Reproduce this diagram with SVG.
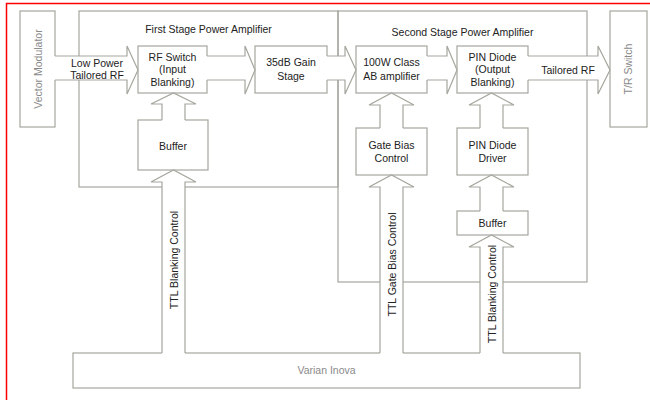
<svg xmlns="http://www.w3.org/2000/svg" width="650" height="400" viewBox="0 0 650 400">
<style>
.box{fill:#fff;stroke:#a6a69e;stroke-width:1.2}
.frame{fill:none;stroke:#a6a69e;stroke-width:1.2}
.af{fill:#fff;stroke:none}
.as{fill:none;stroke:#a6a69e;stroke-width:1.2;stroke-linejoin:miter}
text{font-family:"Liberation Sans",Arial,sans-serif;font-size:10.5px;fill:#222;text-anchor:middle}
.g{fill:#8a8a8a}
</style>
<rect width="650" height="400" fill="#fff"/>
<path d="M6.5,400 V3.5 H650" fill="none" stroke="#f00" stroke-width="1.5"/>

<g id="first-stage">
<rect class="frame" x="79" y="11" width="259" height="176"/>
<text x="208.5" y="32.5">First Stage Power Amplifier</text>
</g>
<g id="second-stage">
<rect class="frame" x="338" y="11" width="249" height="271"/>
<text x="462.5" y="36">Second Stage Power Amplifier</text>
</g>

<g id="vector-modulator">
<rect class="box" x="20" y="11" width="35" height="116"/>
<text class="g" transform="translate(41.5,69) rotate(-90)">Vector Modulator</text>
</g>
<g id="tr-switch">
<rect class="box" x="610" y="11" width="37" height="116"/>
<text class="g" transform="translate(632,69) rotate(-90)">T/R Switch</text>
</g>
<g id="rf-switch">
<rect class="box" x="138" y="46" width="69" height="47"/>
<text x="172.5" y="60.5">RF Switch</text>
<text x="172.5" y="73">(Input</text>
<text x="172.5" y="85.5">Blanking)</text>
</g>
<g id="gain-stage">
<rect class="box" x="255" y="46" width="72" height="47"/>
<text x="291" y="66">35dB Gain</text>
<text x="291" y="79.5">Stage</text>
</g>
<g id="amp-100w">
<rect class="box" x="356" y="46" width="71" height="47"/>
<text x="391.5" y="66">100W Class</text>
<text x="391.5" y="79.5">AB amplifier</text>
</g>
<g id="pin-diode">
<rect class="box" x="457" y="46" width="71" height="47"/>
<text x="492.5" y="60.5">PIN Diode</text>
<text x="492.5" y="73">(Output</text>
<text x="492.5" y="85.5">Blanking)</text>
</g>
<g id="buffer-1">
<rect class="box" x="138" y="120" width="70" height="50"/>
<text x="173" y="149.5">Buffer</text>
</g>
<g id="gate-bias">
<rect class="box" x="356" y="128" width="71" height="47"/>
<text x="391.5" y="149">Gate Bias</text>
<text x="391.5" y="161.5">Control</text>
</g>
<g id="pin-driver">
<rect class="box" x="457" y="128" width="71" height="47"/>
<text x="492.5" y="149">PIN Diode</text>
<text x="492.5" y="161.5">Driver</text>
</g>
<g id="buffer-2">
<rect class="box" x="457" y="211" width="71" height="24"/>
<text x="492.5" y="226.5">Buffer</text>
</g>
<g id="varian-inova">
<rect class="box" x="73" y="353" width="507" height="35"/>
<text class="g" x="326.5" y="374">Varian Inova</text>
</g>

<g id="connectors">
<!-- Low Power Tailored RF -->
<path class="af" d="M54,56 H127 V46 L138,70 L127,94 V80 H54 Z"/>
<path class="as" d="M55,56 H127 V46 L138,70 L127,94 V80 H55"/>
<text x="97" y="66.5">Low Power</text>
<text x="97" y="79">Tailored RF</text>
<!-- RF switch to gain -->
<path class="af" d="M206,56 H245 V46 L255,70 L245,94 V80 H206 Z"/>
<path class="as" d="M207,56 H245 V46 L255,70 L245,94 V80 H207"/>
<!-- gain to 100W -->
<path class="af" d="M326,56 H345 V46 L356,70 L345,94 V80 H326 Z"/>
<path class="as" d="M327,56 H345 V46 L356,70 L345,94 V80 H327"/>
<!-- 100W to PIN -->
<path class="af" d="M426,56 H447 V46 L457,70 L447,94 V80 H426 Z"/>
<path class="as" d="M427,56 H447 V46 L457,70 L447,94 V80 H427"/>
<!-- PIN to T/R -->
<path class="af" d="M527,56 H598 V46 L610,70 L598,94 V80 H527 Z"/>
<path class="as" d="M528,56 H598 V46 L610,70 L598,94 V80 H528"/>
<text x="568" y="74">Tailored RF</text>

<!-- Buffer1 to RF switch -->
<path class="af" d="M162,121 V104 H151 L173.5,93 L196,104 H185 V121 Z"/>
<path class="as" d="M162,120 V104 H151 L173.5,93 L196,104 H185 V120"/>
<!-- Varian to Buffer1 -->
<path class="af" d="M162,354 V182 H151 L173.5,170 L196,182 H185 V354 Z"/>
<path class="as" d="M162,353 V182 H151 L173.5,170 L196,182 H185 V353"/>
<text transform="translate(177.5,260) rotate(-90)">TTL Blanking Control</text>

<!-- Gate bias to 100W -->
<path class="af" d="M380,129 V105 H369 L391.5,93 L414,105 H403 V129 Z"/>
<path class="as" d="M380,128 V105 H369 L391.5,93 L414,105 H403 V128"/>
<!-- Varian to Gate bias -->
<path class="af" d="M380,354 V187 H369 L391.5,175 L414,187 H403 V354 Z"/>
<path class="as" d="M380,353 V187 H369 L391.5,175 L414,187 H403 V353"/>
<text transform="translate(395.5,264.5) rotate(-90)">TTL Gate Bias Control</text>

<!-- PIN driver to PIN diode -->
<path class="af" d="M480,129 V105 H469 L491.5,93 L514,105 H503 V129 Z"/>
<path class="as" d="M480,128 V105 H469 L491.5,93 L514,105 H503 V128"/>
<!-- Buffer2 to PIN driver -->
<path class="af" d="M480,212 V187 H469 L491.5,175 L514,187 H503 V212 Z"/>
<path class="as" d="M480,211 V187 H469 L491.5,175 L514,187 H503 V211"/>
<!-- Varian to Buffer2 -->
<path class="af" d="M480,354 V247 H469 L491.5,235 L514,247 H503 V354 Z"/>
<path class="as" d="M480,353 V247 H469 L491.5,235 L514,247 H503 V353"/>
<text transform="translate(495.5,294) rotate(-90)">TTL Blanking Control</text>
</g>
</svg>
